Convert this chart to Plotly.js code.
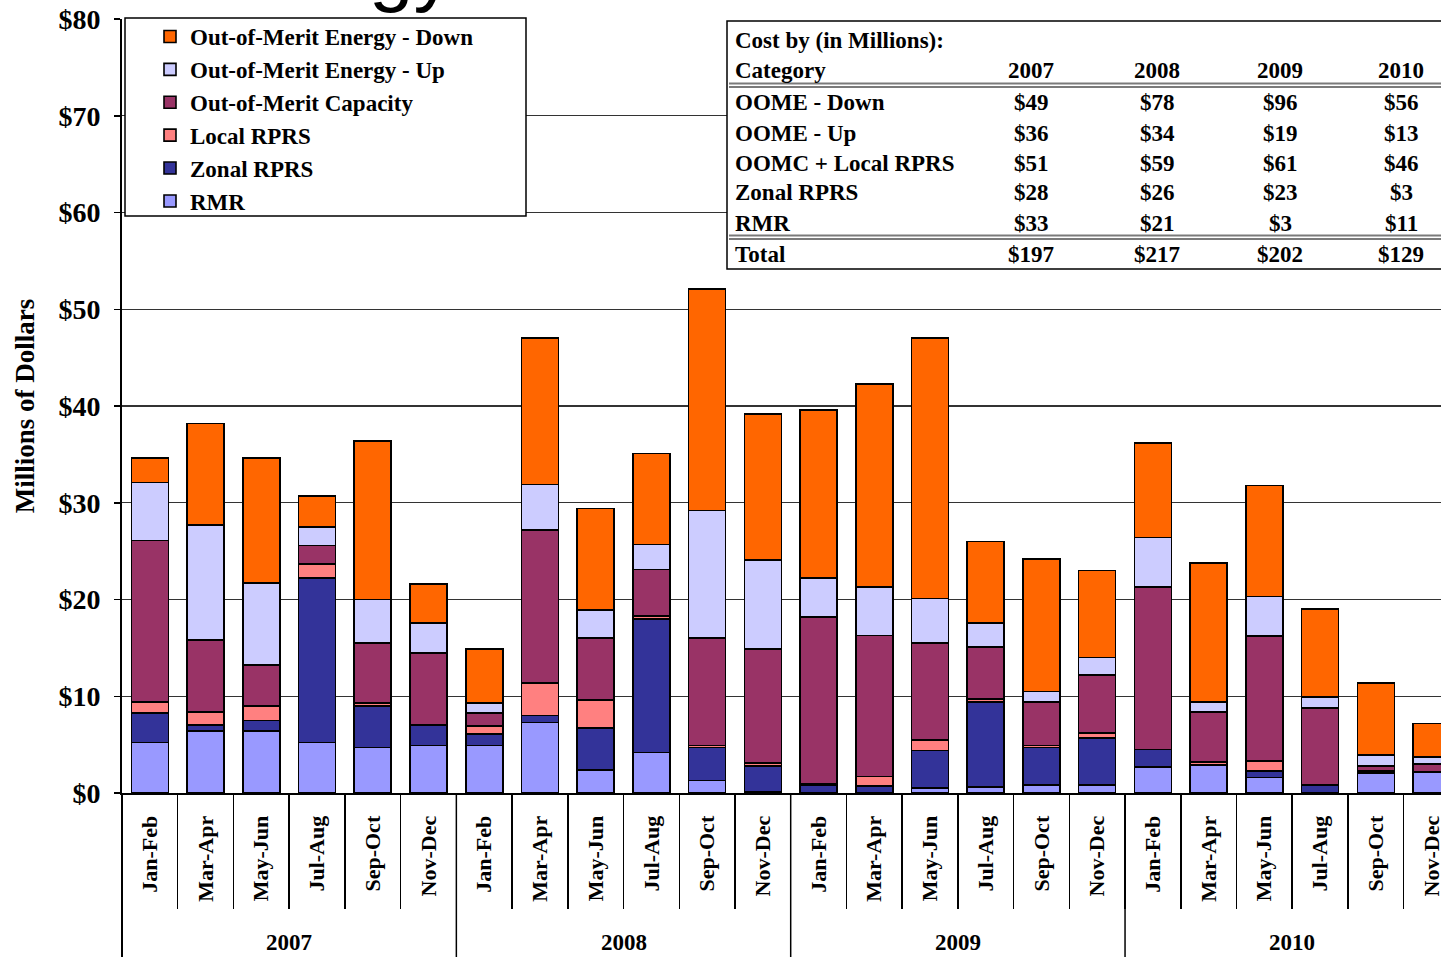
<!DOCTYPE html>
<html>
<head>
<meta charset="utf-8">
<script src="https://cdn.plot.ly/plotly-3.0.1.min.js"></script>
<style>
html,body{margin:0;padding:0;background:#fff;overflow:hidden;}
#chart{width:1441px;height:957px;}
</style>
</head>
<body>
<div id="chart"></div>
<script>
// ---------- data ----------
const years = ['2007', '2008', '2009', '2010'];
const periods = ['Jan-Feb', 'Mar-Apr', 'May-Jun', 'Jul-Aug', 'Sep-Oct', 'Nov-Dec'];

const rmr      = [5.2, 6.4, 6.4, 5.2, 4.7, 4.9,   4.9, 7.3, 2.4, 4.2, 1.3, 0.1,   0.0, 0.0, 0.5, 0.6, 0.8, 0.8,   2.7, 2.9, 1.6, 0.0, 2.0, 2.2];
const zonal    = [3.1, 0.6, 1.1, 17.0, 4.3, 2.1,  1.2, 0.7, 4.3, 13.8, 3.4, 2.7,  0.8, 0.7, 3.9, 8.8, 3.9, 4.9,   1.8, 0.0, 0.7, 0.8, 0.2, 0.0];
const localRprs= [1.1, 1.4, 1.5, 1.5, 0.3, 0.1,   0.8, 3.4, 2.9, 0.3, 0.2, 0.3,   0.2, 1.0, 1.1, 0.3, 0.2, 0.5,   0.0, 0.3, 1.0, 0.0, 0.1, 0.0];
const capacity = [16.7, 7.4, 4.2, 1.9, 6.2, 7.4,  1.4, 15.8, 6.4, 4.8, 11.1, 11.8, 17.2, 14.6, 10.0, 5.4, 4.5, 6.0, 16.8, 5.2, 12.9, 8.0, 0.5, 0.8];
const energyUp = [6.0, 11.9, 8.5, 1.9, 4.5, 3.1,  1.0, 4.7, 2.9, 2.6, 13.2, 9.2,  4.0, 5.0, 4.6, 2.5, 1.1, 1.8,   5.1, 1.0, 4.1, 1.1, 1.1, 0.7];
const energyDown=[2.5, 10.5, 12.9, 3.2, 16.4, 4.0, 5.6, 15.1, 10.5, 9.4, 22.9, 15.1, 17.4, 21.0, 26.9, 8.4, 13.7, 9.0, 9.8, 14.4, 11.5, 9.1, 7.5, 3.5];

const seriesNames = ['RMR', 'Zonal RPRS', 'Local RPRS', 'Out-of-Merit Capacity', 'Out-of-Merit Energy - Up', 'Out-of-Merit Energy - Down'];
const seriesColors = ['#9999FF', '#333399', '#FF8080', '#993366', '#CCCCFF', '#FF6600'];
const seriesValues = [rmr, zonal, localRprs, capacity, energyUp, energyDown];

const yTitle = 'Millions of Dollars';
const topTitle = 'Energy';

const tableTitle = 'Cost by (in Millions):';
const tableHeader = 'Category';
const tableRows = ['OOME - Down', 'OOME - Up', 'OOMC + Local RPRS', 'Zonal RPRS', 'RMR'];
const cost2007 = ['$49', '$36', '$51', '$28', '$33'];
const cost2008 = ['$78', '$34', '$59', '$26', '$21'];
const cost2009 = ['$96', '$19', '$61', '$23', '$3'];
const cost2010 = ['$56', '$13', '$46', '$3', '$11'];
const totalLabel = 'Total';
const totals = ['$197', '$217', '$202', '$129'];

// ---------- layout helpers ----------
const W = 1441, H = 957;
const M = {l: 122, r: 0, t: 19, b: 164};
const plotW = W - M.l - M.r, plotH = H - M.t - M.b;
const px = x => (x - M.l) / plotW;
const py = y => (H - M.b - y) / plotH;

const FONT = 'Liberation Serif, Times New Roman, serif';
const bold = (size) => ({family: FONT, size: size, color: '#000', weight: 'bold'});

const keys = [];
const tickText = [];
years.forEach(y => periods.forEach(p => { keys.push(y + ' ' + p); tickText.push(p); }));

const traces = seriesNames.map((name, i) => ({
  type: 'bar',
  name: name,
  x: keys,
  y: seriesValues[i],
  marker: {color: seriesColors[i], line: {color: '#000', width: 1.6}},
  hoverinfo: 'skip'
}));

const shapes = [];
const annotations = [];

// legend frame
shapes.push({type: 'rect', xref: 'paper', yref: 'paper', x0: px(125), x1: px(526), y0: py(216), y1: py(18),
  fillcolor: '#fff', line: {color: '#000', width: 1.5}, layer: 'above'});

// table frame
shapes.push({type: 'rect', xref: 'paper', yref: 'paper', x0: px(727), x1: px(1460), y0: py(269), y1: py(21),
  fillcolor: '#fff', line: {color: '#000', width: 1.5}, layer: 'above'});
[83.5, 87, 235.5, 239].forEach(yy => {
  shapes.push({type: 'line', xref: 'paper', yref: 'paper', x0: px(729), x1: px(1460), y0: py(yy), y1: py(yy),
    line: {color: '#7a7a7a', width: 2.2}, layer: 'above'});
});

// year separators below the axis (category boundaries)
shapes.push({type: 'line', xref: 'paper', yref: 'paper', x0: 0, x1: 0, y0: 0, y1: py(H + 5),
  line: {color: '#000', width: 2}});
years.forEach((y, i) => {
  if (i === 0) return;
  const b = i * periods.length - 0.5;
  shapes.push({type: 'line', xref: 'x', yref: 'paper', x0: b, x1: b, y0: 0, y1: py(H + 5),
    line: {color: '#000', width: 1.5}});
});

// year labels
years.forEach((y, i) => {
  annotations.push({xref: 'x', yref: 'paper', x: i * periods.length + (periods.length - 1) / 2, y: py(942),
    text: y, showarrow: false, font: bold(23), xanchor: 'center', yanchor: 'middle'});
});

// table text
const TF = 23;
const colX = [1031, 1157, 1280, 1401];
const colData = [cost2007, cost2008, cost2009, cost2010];
annotations.push({xref: 'paper', yref: 'paper', x: px(733), y: py(40), text: tableTitle, showarrow: false,
  xanchor: 'left', yanchor: 'middle', font: bold(TF)});
annotations.push({xref: 'paper', yref: 'paper', x: px(733), y: py(70), text: tableHeader, showarrow: false,
  xanchor: 'left', yanchor: 'middle', font: bold(TF)});
years.forEach((y, j) => {
  annotations.push({xref: 'paper', yref: 'paper', x: px(colX[j]), y: py(70), text: y, showarrow: false,
    xanchor: 'center', yanchor: 'middle', font: bold(TF)});
});
tableRows.forEach((r, i) => {
  const yy = 103 + i * 30;
  annotations.push({xref: 'paper', yref: 'paper', x: px(733), y: py(yy), text: r, showarrow: false,
    xanchor: 'left', yanchor: 'middle', font: bold(TF)});
  colData.forEach((col, j) => {
    annotations.push({xref: 'paper', yref: 'paper', x: px(colX[j]), y: py(yy), text: col[i], showarrow: false,
      xanchor: 'center', yanchor: 'middle', font: bold(TF)});
  });
});
annotations.push({xref: 'paper', yref: 'paper', x: px(733), y: py(255), text: totalLabel, showarrow: false,
  xanchor: 'left', yanchor: 'middle', font: bold(TF)});
totals.forEach((t, j) => {
  annotations.push({xref: 'paper', yref: 'paper', x: px(colX[j]), y: py(255), text: t, showarrow: false,
    xanchor: 'center', yanchor: 'middle', font: bold(TF)});
});

// cut-off title at the very top
annotations.push({xref: 'paper', yref: 'paper', x: px(455), y: py(15.5), text: topTitle, showarrow: false,
  xanchor: 'right', yanchor: 'bottom', font: {family: 'Liberation Sans, Arial, sans-serif', size: 80, color: '#000'}});

const layout = {
  width: W, height: H,
  margin: M,
  paper_bgcolor: '#fff', plot_bgcolor: '#fff',
  barmode: 'stack',
  bargap: 0.336,
  showlegend: true,
  legend: {x: px(150), y: py(15), xanchor: 'left', yanchor: 'top', traceorder: 'reversed',
    bgcolor: 'rgba(0,0,0,0)', borderwidth: 0, font: bold(23)},
  xaxis: {
    type: 'category', range: [-0.5, 23.17], fixedrange: true,
    tickmode: 'array', tickvals: keys, ticktext: tickText, tickangle: -90,
    ticks: 'outside', tickson: 'boundaries', ticklen: 114, tickwidth: 1.5, tickcolor: '#000',
    ticklabelstandoff: 12,
    tickfont: bold(22),
    showline: true, linecolor: '#000', linewidth: 2,
    showgrid: false, zeroline: false
  },
  yaxis: {
    range: [0, 80], dtick: 10, tick0: 0, tickprefix: '$', fixedrange: true,
    ticks: 'outside', ticklen: 6, tickwidth: 1.5, tickcolor: '#000',
    ticklabelstandoff: 8,
    tickfont: bold(28),
    showline: true, linecolor: '#000', linewidth: 2,
    showgrid: true, gridcolor: '#333', gridwidth: 1.2, zeroline: false,
    title: {text: yTitle, font: bold(27), standoff: 16}
  },
  shapes: shapes,
  annotations: annotations
};

Plotly.newPlot('chart', traces, layout, {staticPlot: true, displayModeBar: false});
</script>
</body>
</html>
